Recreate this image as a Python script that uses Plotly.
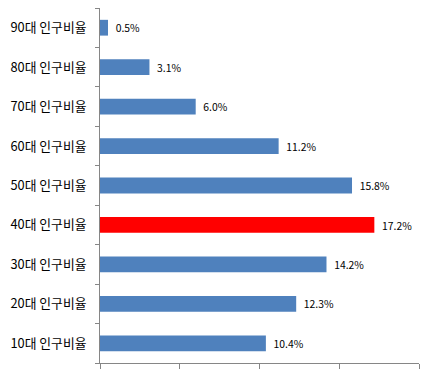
import plotly.graph_objects as go

categories = ["10대 인구비율", "20대 인구비율", "30대 인구비율", "40대 인구비율",
              "50대 인구비율", "60대 인구비율", "70대 인구비율", "80대 인구비율", "90대 인구비율"]
values = [10.4, 12.3, 14.2, 17.2, 15.8, 11.2, 6.0, 3.1, 0.5]
highlight = "40대 인구비율"

colors = ["#FF0000" if c == highlight else "#4F81BD" for c in categories]

fig = go.Figure(go.Bar(
    y=categories, x=values, orientation="h",
    marker=dict(color=colors, line=dict(width=0)),
    text=[f"  {v:.1f}%" for v in values],
    textposition="outside",
    textfont=dict(size=12.5, color="#000000", family="Noto Sans CJK KR"),
    cliponaxis=False,
))

# page body has an 8px default margin, so the figure is sized to compensate
fig.update_layout(
    width=434, height=366,
    margin=dict(l=92, r=23, t=0, b=11, autoexpand=False),
    paper_bgcolor="white", plot_bgcolor="white",
    bargap=0.6,
    showlegend=False,
    font=dict(family="Noto Sans CJK KR", size=13, color="#000000"),
)
fig.update_xaxes(range=[0, 20], dtick=5, showticklabels=False, showgrid=False,
                 zeroline=False, showline=True, linecolor="#868686",
                 ticks="outside", ticklen=5, tickcolor="#868686", automargin=False)
fig.update_yaxes(type="category", categoryorder="array", categoryarray=categories,
                 showgrid=False, zeroline=False, showline=True, linecolor="#868686",
                 ticks="outside", ticklen=4, tickcolor="#868686", tickson="boundaries",
                 ticklabelstandoff=10, tickfont=dict(size=12.8), automargin=False)

fig.write_html("out.html")
